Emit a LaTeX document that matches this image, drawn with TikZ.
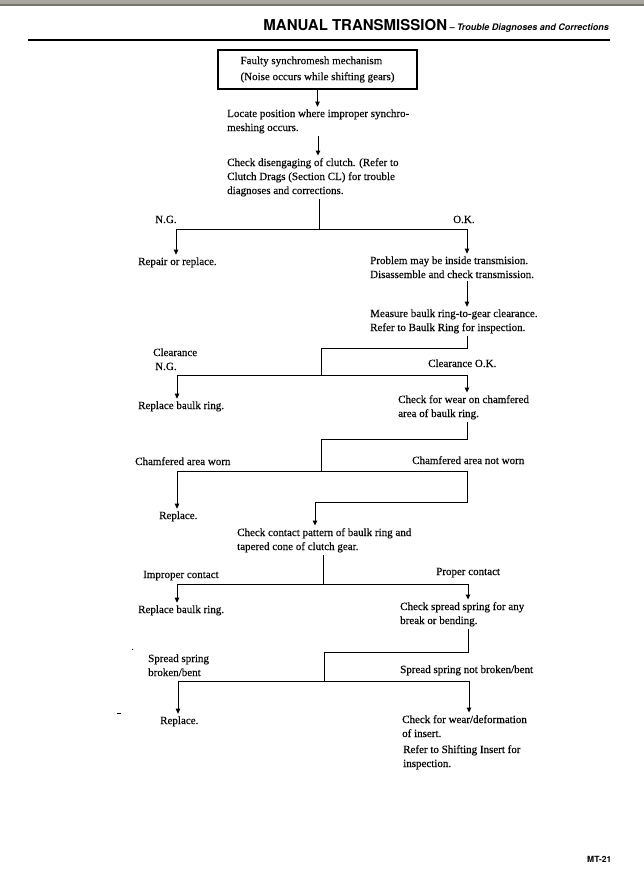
\documentclass[tikz,border=0pt]{standalone}
\usepackage{fontspec}
\setmainfont[FakeBold=0.15]{Liberation Serif}
\newfontfamily\hdrfont{TeX Gyre Heros}
\newfontfamily\darkfont[FakeBold=0.35]{Liberation Serif}
\usetikzlibrary{arrows.meta}
\definecolor{bandgray}{HTML}{A8A69F}
\definecolor{banddark}{HTML}{77756F}
\begin{document}
\begin{tikzpicture}[x=1bp,y=-1bp,
  txt/.style={font=\fontsize{11bp}{14bp}\selectfont, align=left, inner xsep=0pt, inner ysep=2.5bp, anchor=base west},
  dtxt/.style={txt, font=\darkfont\fontsize{11bp}{14bp}\selectfont},
  conn/.style={line width=0.9bp},
  arr/.style={conn,-{Triangle[length=5bp,width=4.5bp]}},
  startbox/.style={draw, line width=1.4bp, minimum width=199bp, minimum height=39bp, align=left, inner sep=0pt, font=\fontsize{11bp}{14bp}\selectfont}
]
\useasboundingbox (0,0) rectangle (644,886);
\fill[white] (0,0) rectangle (644,886);
\fill[bandgray] (0,0) rectangle (644,4);
\fill[banddark] (0,4) rectangle (644,5.5);
\node[anchor=base east, inner sep=0pt] (hdr) at (609,30) {{\hdrfont\bfseries\fontsize{15bp}{15bp}\selectfont MANUAL TRANSMISSION} {\hdrfont\bfseries\itshape\fontsize{9bp}{9bp}\selectfont – Trouble Diagnoses and Corrections}};
\draw[line width=1.5bp] (28,40) -- (610,40);

\node[startbox] (start) at (317.5,69.5) {Faulty synchromesh mechanism\\[2bp](Noise occurs while shifting gears)};

% multi-line nodes: base = baseline of last line
\node[txt] (locate) at (227,131) {Locate position where improper synchro-\\meshing occurs.};
\node[txt] (clutch) at (227,194) {Check disengaging of clutch. (Refer to\\Clutch Drags (Section CL) for trouble\\diagnoses and corrections.};
\node[txt] (ng1) at (155,223) {N.G.};
\node[txt] (ok1) at (453,223) {O.K.};
\node[txt] (repair) at (138,265) {Repair or replace.};
\node[txt] (problem) at (370,278) {Problem may be inside transmision.\\Disassemble and check transmission.};
\node[txt] (measure) at (370,331) {Measure baulk ring-to-gear clearance.\\Refer to Baulk Ring for inspection.};
\node[txt] (clng) at (153,370) {Clearance\\\hspace*{2bp}N.G.};
\node[txt] (clok) at (428,367) {Clearance O.K.};
\node[txt] (replring1) at (138,409) {Replace baulk ring.};
\node[txt] (chamf) at (398,417) {Check for wear on chamfered\\area of baulk ring.};
\node[txt] (worn) at (135,465) {Chamfered area worn};
\node[txt] (notworn) at (412,464) {Chamfered area not worn};
\node[txt] (repl1) at (159,519) {Replace.};
\node[txt] (contact) at (237,550) {Check contact pattern of baulk ring and\\tapered cone of clutch gear.};
\node[txt] (improper) at (143,578) {Improper contact};
\node[dtxt] (proper) at (436,575) {Proper contact};
\node[txt] (replring2) at (138,613) {Replace baulk ring.};
\node[dtxt] (spring) at (400,624) {Check spread spring for any\\break or bending.};
\node[txt] (broken) at (148,676) {Spread spring\\broken/bent};
\node[dtxt] (notbroken) at (400,673) {Spread spring not broken/bent};
\node[txt] (repl2) at (160,724) {Replace.};
\node[dtxt] (insert) at (402,737) {Check for wear/deformation\\of insert.};
\node[dtxt] (shifting) at (403,767) {Refer to Shifting Insert for\\inspection.};
\node[anchor=base west, inner sep=0pt, font=\hdrfont\bfseries\fontsize{8.5bp}{9bp}\selectfont] (page) at (587,862) {MT-21};

% connectors
\coordinate (rc) at (467,0);
\coordinate (a2) at (318,0);
\draw[arr] (start.south) -- (start.south |- locate.north);
\draw[arr] (locate.south -| a2) -- (clutch.north -| a2);

\coordinate (j1) at (319,229);
\coordinate (l1) at (176,229);
\draw[conn] (clutch.south -| j1) -- (j1);
\draw[arr] (j1) -| (l1 |- repair.north);
\draw[arr] (j1) -| (rc |- problem.north);
\draw[arr] (problem.south -| rc) -- (measure.north -| rc);

\coordinate (k2) at (321,348);
\coordinate (j2) at (321,375);
\coordinate (l2) at (177,375);
\draw[conn] (measure.south -| rc) |- (k2) -- (j2);
\draw[arr] (j2) -| (l2 |- replring1.north);
\draw[arr] (j2) -| (rc |- chamf.north);

\coordinate (k3) at (321,439);
\coordinate (j3) at (321,471);
\coordinate (l3) at (177,471);
\coordinate (m3) at (315,502);
\draw[conn] (chamf.south -| rc) |- (k3) -- (j3);
\draw[arr] (j3) -| (l3 |- repl1.north);
\draw[arr] (j3) -| (rc |- m3) -| (m3 |- contact.north);

\coordinate (j4) at (323,584);
\coordinate (l4) at (177,584);
\coordinate (r4) at (468,584);
\draw[conn] (contact.south -| j4) -- (j4);
\draw[arr] (j4) -| (l4 |- replring2.north);
\draw[arr] (j4) -| (r4 |- spring.north);

\coordinate (k5) at (324,652);
\coordinate (j5) at (324,681);
\coordinate (l5) at (178,681);
\coordinate (r5) at (469,681);
\draw[conn] (spring.south -| r4) |- (k5) -- (j5);
\draw[arr] (j5) -| (l5 |- repl2.north);
\draw[arr] (j5) -| (r5 |- insert.north);

% scan marks
\fill (132.5,649.5) circle (0.6bp);
\draw[line width=0.8bp] (117,713) -- (121,713);
\end{tikzpicture}
\end{document}
